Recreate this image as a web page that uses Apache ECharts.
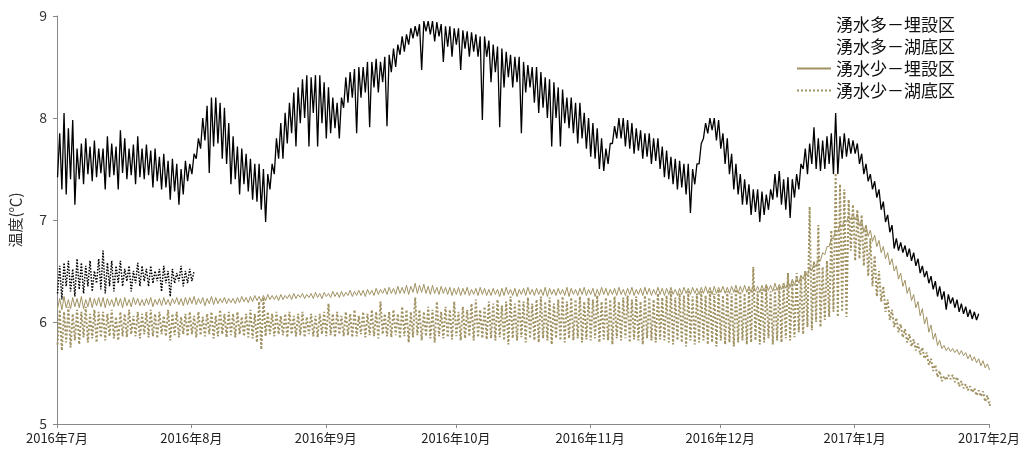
<!DOCTYPE html>
<html>
<head>
<meta charset="utf-8">
<script src="https://cdn.jsdelivr.net/npm/echarts/dist/echarts.min.js"></script>
<style>
  html, body { margin: 0; padding: 0; background: #fff; }
  #chart { width: 1024px; height: 460px; }
</style>
</head>
<body>
<div id="chart"></div>
<script>
// daily min / max readings, index 0 = 2016-07-01
const startDate = [2016, 6, 1];
const seriesNames = ['湧水多－埋設区', '湧水多－湖底区', '湧水少－埋設区', '湧水少－湖底区'];
const yTicks = [5, 6, 7, 8, 9];

// 湧水多－埋設区
const manyBuriedMax = [
    7.85, 8.05, 7.9, 7.98, 7.7, 7.75, 7.8, 7.72, 7.78, 7.7,
    7.7, 7.82, 7.75, 7.72, 7.88, 7.8, 7.7, 7.74, 7.82, 7.7,
    7.74, 7.68, 7.7, 7.62, 7.65, 7.58, 7.6, 7.55, 7.5, 7.58,
    7.55, 7.65, 7.8, 8.0, 8.12, 8.2, 8.2, 8.15, 8.1, 7.95,
    7.82, 7.72, 7.7, 7.65, 7.6, 7.55, 7.55, 7.5, 7.45, 7.55,
    7.8, 7.95, 8.05, 8.15, 8.25, 8.3, 8.38, 8.42, 8.4, 8.42,
    8.42, 8.35, 8.3, 8.2, 8.15, 8.2, 8.4, 8.45, 8.48, 8.5,
    8.5, 8.55, 8.55, 8.58, 8.55, 8.6, 8.62, 8.68, 8.72, 8.8,
    8.82, 8.88, 8.9, 8.92, 8.95, 8.95, 8.95, 8.94, 8.92, 8.9,
    8.9, 8.88, 8.88, 8.86, 8.85, 8.84, 8.82, 8.8, 8.8, 8.76,
    8.72, 8.7, 8.68, 8.65, 8.62, 8.6, 8.6, 8.55, 8.52, 8.5,
    8.5, 8.45, 8.4, 8.38, 8.35, 8.3, 8.28, 8.2, 8.2, 8.15,
    8.15, 8.05, 8.0, 7.95, 7.9, 7.8, 7.7, 7.75, 7.92, 8.0,
    8.0, 7.98, 7.95, 7.9, 7.88, 7.85, 7.85, 7.8, 7.8, 7.72,
    7.68, 7.62, 7.6, 7.58, 7.55, 7.55, 7.5, 7.55, 7.75, 7.95,
    8.0, 8.0, 7.98, 7.85, 7.8, 7.65, 7.55, 7.45, 7.4, 7.35,
    7.3, 7.3, 7.28, 7.25, 7.3, 7.45, 7.48, 7.4, 7.42, 7.4,
    7.45, 7.55, 7.7, 7.75, 7.91, 7.8, 7.78, 7.82, 7.85, 8.05,
    7.82, 7.85, 7.8, 7.78, 7.75, 7.65, 7.55, 7.45, 7.38, 7.3,
    7.18, 7.05, 6.95, 6.82, 6.78, 6.75, 6.72, 6.68, 6.62, 6.55,
    6.5, 6.45, 6.4, 6.35, 6.3, 6.27, 6.24, 6.22, 6.18, 6.15,
    6.12, 6.1, 6.08
];
const manyBuriedMin = [
    7.42, 7.3, 7.25, 7.4, 7.15, 7.4, 7.35, 7.45, 7.38, 7.42,
    7.46, 7.3, 7.42, 7.44, 7.3, 7.46, 7.4, 7.44, 7.35, 7.42,
    7.4, 7.44, 7.32, 7.38, 7.3, 7.32, 7.2, 7.28, 7.15, 7.25,
    7.38, 7.45, 7.6, 7.7, 7.78, 7.46, 7.72, 7.75, 7.6, 7.55,
    7.35, 7.4, 7.25, 7.35, 7.28, 7.2, 7.18, 7.1, 6.98, 7.3,
    7.45, 7.6, 7.6, 7.75, 7.85, 7.72, 7.95, 8.0, 7.72, 8.05,
    7.72, 7.95, 7.8, 7.85, 7.9, 7.8, 8.1, 8.15, 8.2, 7.85,
    8.2, 8.25, 7.91, 8.3, 8.25, 8.35, 7.92, 8.45, 8.5, 8.62,
    8.65, 8.72, 8.78, 8.8, 8.47, 8.85, 8.82, 8.75, 8.8, 8.55,
    8.7, 8.6, 8.72, 8.47, 8.68, 8.6, 8.65, 8.6, 7.98, 8.6,
    8.35, 8.45, 7.91, 8.3, 8.4, 8.3, 8.35, 7.85, 8.25, 8.3,
    8.15, 8.05, 8.1, 8.0, 7.72, 8.0, 7.72, 7.95, 7.9, 7.85,
    7.75, 7.8, 7.7, 7.62, 7.6, 7.5, 7.48, 7.55, 7.75, 7.8,
    7.8, 7.72, 7.7, 7.65, 7.68, 7.6, 7.62, 7.55, 7.58, 7.5,
    7.42, 7.4, 7.35, 7.3, 7.32, 7.25, 7.07, 7.35, 7.55, 7.8,
    7.85, 7.88, 7.78, 7.7, 7.55, 7.45, 7.3, 7.25, 7.15, 7.15,
    7.05, 7.08, 6.98, 7.05, 7.1, 7.2, 7.22, 7.15, 7.1, 7.02,
    7.22, 7.3, 7.5, 7.45, 7.55, 7.5, 7.48, 7.5, 7.55, 7.45,
    7.45, 7.6, 7.62, 7.65, 7.65, 7.55, 7.45, 7.38, 7.3, 7.22,
    7.1, 6.98, 6.88, 6.72, 6.7, 6.68, 6.64, 6.6, 6.55, 6.48,
    6.44, 6.38, 6.32, 6.25, 6.22, 6.12, 6.18, 6.14, 6.1, 6.08,
    6.05, 6.03, 6.02
];

// 湧水多－湖底区 (7/1 - 8/1)
const manyBottomMax = [
    6.55, 6.58, 6.6, 6.52, 6.62, 6.58, 6.55, 6.6, 6.5, 6.62,
    6.7, 6.58, 6.6, 6.55, 6.6, 6.52, 6.55, 6.5, 6.58, 6.55,
    6.52, 6.55, 6.5, 6.52, 6.55, 6.5, 6.52, 6.48, 6.55, 6.5,
    6.52, 6.5
];
const manyBottomMin = [
    6.28, 6.22, 6.35, 6.3, 6.25, 6.32, 6.28, 6.35, 6.3, 6.38,
    6.32, 6.28, 6.35, 6.3, 6.38, 6.35, 6.4, 6.3, 6.38, 6.35,
    6.4, 6.35, 6.38, 6.4, 6.3, 6.38, 6.25, 6.38, 6.4, 6.35,
    6.38, 6.4
];

// 湧水少－埋設区
const fewBuriedMax = [
    6.23, 6.25, 6.22, 6.24, 6.23, 6.25, 6.22, 6.24, 6.23, 6.24,
    6.24, 6.23, 6.22, 6.24, 6.23, 6.24, 6.22, 6.24, 6.23, 6.22,
    6.23, 6.24, 6.22, 6.23, 6.24, 6.22, 6.23, 6.24, 6.23, 6.24,
    6.24, 6.25, 6.23, 6.24, 6.23, 6.25, 6.24, 6.23, 6.24, 6.23,
    6.23, 6.24, 6.25, 6.24, 6.25, 6.26, 6.25, 6.26, 6.27, 6.26,
    6.26, 6.27, 6.26, 6.27, 6.28, 6.27, 6.28, 6.27, 6.28, 6.29,
    6.28, 6.29, 6.28, 6.3, 6.29, 6.3, 6.29, 6.31, 6.3, 6.31,
    6.31, 6.32, 6.31, 6.33, 6.32, 6.33, 6.34, 6.33, 6.35, 6.34,
    6.36, 6.35, 6.38, 6.36, 6.37, 6.35, 6.36, 6.34, 6.35, 6.34,
    6.34, 6.33, 6.34, 6.33, 6.34, 6.32, 6.33, 6.34, 6.33, 6.32,
    6.33, 6.32, 6.33, 6.34, 6.32, 6.33, 6.32, 6.33, 6.34, 6.32,
    6.33, 6.32, 6.34, 6.33, 6.32, 6.33, 6.32, 6.34, 6.33, 6.32,
    6.33, 6.34, 6.32, 6.33, 6.32, 6.34, 6.33, 6.32, 6.33, 6.34,
    6.32, 6.33, 6.34, 6.32, 6.33, 6.34, 6.33, 6.32, 6.34, 6.33,
    6.33, 6.34, 6.32, 6.33, 6.34, 6.33, 6.34, 6.33, 6.34, 6.35,
    6.34, 6.35, 6.34, 6.35, 6.34, 6.35, 6.36, 6.35, 6.36, 6.35,
    6.36, 6.35, 6.36, 6.37, 6.36, 6.38, 6.37, 6.38, 6.4, 6.42,
    6.44, 6.46, 6.5, 6.54, 6.58, 6.62, 6.68, 6.74, 6.82, 6.9,
    6.96, 7.0, 7.04, 7.06, 7.06, 7.0, 6.95, 6.9, 6.85, 6.8,
    6.74, 6.68, 6.62, 6.55, 6.48, 6.41, 6.34, 6.27, 6.2, 6.13,
    6.05, 5.97, 5.89, 5.82, 5.77, 5.75, 5.74, 5.73, 5.72, 5.7,
    5.68, 5.66, 5.64, 5.62, 5.59, 5.56
];
const fewBuriedMin = [
    6.13, 6.12, 6.14, 6.13, 6.15, 6.14, 6.13, 6.15, 6.14, 6.16,
    6.15, 6.14, 6.16, 6.15, 6.16, 6.14, 6.16, 6.15, 6.17, 6.16,
    6.16, 6.17, 6.15, 6.17, 6.16, 6.17, 6.16, 6.18, 6.17, 6.16,
    6.17, 6.18, 6.17, 6.18, 6.16, 6.18, 6.17, 6.18, 6.19, 6.18,
    6.19, 6.18, 6.19, 6.2, 6.19, 6.2, 6.21, 6.2, 6.21, 6.22,
    6.22, 6.21, 6.22, 6.23, 6.22, 6.23, 6.24, 6.23, 6.24, 6.23,
    6.24, 6.23, 6.25, 6.24, 6.25, 6.24, 6.25, 6.26, 6.25, 6.26,
    6.26, 6.25, 6.27, 6.26, 6.27, 6.28, 6.27, 6.28, 6.27, 6.28,
    6.28, 6.27, 6.29, 6.28, 6.29, 6.28, 6.27, 6.28, 6.27, 6.28,
    6.27, 6.26, 6.27, 6.26, 6.27, 6.26, 6.27, 6.26, 6.27, 6.26,
    6.26, 6.27, 6.25, 6.26, 6.27, 6.26, 6.25, 6.27, 6.26, 6.27,
    6.26, 6.27, 6.26, 6.25, 6.27, 6.26, 6.27, 6.26, 6.25, 6.27,
    6.26, 6.27, 6.26, 6.27, 6.25, 6.26, 6.27, 6.26, 6.27, 6.26,
    6.27, 6.26, 6.27, 6.26, 6.27, 6.26, 6.27, 6.26, 6.27, 6.27,
    6.26, 6.27, 6.27, 6.26, 6.27, 6.28, 6.27, 6.28, 6.27, 6.28,
    6.28, 6.27, 6.28, 6.29, 6.28, 6.28, 6.29, 6.28, 6.29, 6.29,
    6.29, 6.3, 6.29, 6.3, 6.31, 6.3, 6.31, 6.32, 6.33, 6.34,
    6.36, 6.38, 6.42, 6.45, 6.5, 6.54, 6.6, 6.66, 6.74, 6.82,
    6.88, 6.93, 6.98, 7.0, 7.0, 6.94, 6.88, 6.84, 6.79, 6.74,
    6.68, 6.62, 6.56, 6.5, 6.42, 6.35, 6.28, 6.21, 6.14, 6.06,
    5.98, 5.9, 5.83, 5.77, 5.74, 5.72, 5.71, 5.7, 5.68, 5.67,
    5.64, 5.62, 5.6, 5.57, 5.55, 5.53
];

// 湧水少－湖底区
const fewBottomMax = [
    6.12, 6.1, 6.15, 6.08, 6.12, 6.1, 6.15, 6.08, 6.12, 6.1,
    6.1, 6.08, 6.12, 6.05, 6.1, 6.08, 6.12, 6.06, 6.1, 6.08,
    6.1, 6.12, 6.08, 6.1, 6.06, 6.12, 6.08, 6.1, 6.05, 6.08,
    6.1, 6.06, 6.1, 6.05, 6.08, 6.1, 6.06, 6.12, 6.08, 6.1,
    6.08, 6.1, 6.05, 6.08, 6.12, 6.08, 6.2, 6.24, 6.1, 6.08,
    6.1, 6.06, 6.08, 6.1, 6.06, 6.08, 6.1, 6.05, 6.08, 6.06,
    6.08, 6.1, 6.18, 6.08, 6.1, 6.06, 6.1, 6.08, 6.12, 6.06,
    6.1, 6.08, 6.12, 6.1, 6.2, 6.08, 6.1, 6.12, 6.08, 6.15,
    6.12, 6.1, 6.24, 6.12, 6.1, 6.15, 6.12, 6.2, 6.1, 6.15,
    6.12, 6.2, 6.1, 6.15, 6.12, 6.18, 6.22, 6.12, 6.15, 6.2,
    6.18, 6.22, 6.16, 6.2, 6.25, 6.18, 6.22, 6.2, 6.24, 6.18,
    6.22, 6.25, 6.2, 6.24, 6.18, 6.22, 6.25, 6.2, 6.24, 6.22,
    6.25, 6.2, 6.24, 6.22, 6.26, 6.2, 6.24, 6.22, 6.25, 6.2,
    6.24, 6.26, 6.22, 6.25, 6.2, 6.26, 6.24, 6.22, 6.28, 6.24,
    6.26, 6.3, 6.24, 6.28, 6.26, 6.3, 6.25, 6.28, 6.3, 6.26,
    6.3, 6.28, 6.32, 6.26, 6.3, 6.28, 6.32, 6.3, 6.28, 6.32,
    6.54, 6.3, 6.32, 6.35, 6.3, 6.32, 6.35, 6.38, 6.48, 6.4,
    6.48, 6.45, 6.5, 7.13, 6.6, 6.95, 6.54, 6.6, 6.9, 7.46,
    7.35, 7.3, 7.2, 7.15, 7.1, 7.05, 6.95, 6.82, 6.65, 6.5,
    6.35, 6.22, 6.12, 6.04, 5.98, 5.93, 5.88, 5.83, 5.79, 5.75,
    5.7, 5.64, 5.58, 5.52, 5.47, 5.48, 5.48, 5.46, 5.42, 5.39,
    5.37, 5.35, 5.33, 5.32, 5.28, 5.22
];
const fewBottomMin = [
    5.78, 5.72, 5.8, 5.75, 5.82, 5.78, 5.85, 5.8, 5.84, 5.8,
    5.85, 5.82, 5.86, 5.84, 5.82, 5.86, 5.85, 5.88, 5.86, 5.84,
    5.88, 5.85, 5.86, 5.84, 5.88, 5.86, 5.82, 5.87, 5.85, 5.88,
    5.86, 5.88, 5.85, 5.87, 5.86, 5.88, 5.84, 5.86, 5.88, 5.85,
    5.87, 5.85, 5.88, 5.86, 5.85, 5.84, 5.8, 5.73, 5.86, 5.88,
    5.86, 5.88, 5.87, 5.85, 5.88, 5.86, 5.87, 5.85, 5.88, 5.86,
    5.85, 5.88, 5.86, 5.87, 5.85, 5.88, 5.86, 5.87, 5.85, 5.86,
    5.88, 5.85, 5.87, 5.86, 5.84, 5.88, 5.86, 5.85, 5.87, 5.84,
    5.86, 5.8, 5.85, 5.87, 5.82, 5.86, 5.84, 5.8, 5.86, 5.84,
    5.85, 5.83, 5.86, 5.82, 5.84, 5.86, 5.82, 5.85, 5.84, 5.83,
    5.84, 5.82, 5.85, 5.82, 5.78, 5.84, 5.82, 5.85, 5.8, 5.84,
    5.82, 5.8, 5.84, 5.82, 5.78, 5.84, 5.82, 5.8, 5.84, 5.82,
    5.84, 5.8, 5.83, 5.82, 5.84, 5.8, 5.83, 5.82, 5.78, 5.84,
    5.82, 5.84, 5.8, 5.83, 5.82, 5.78, 5.84, 5.82, 5.8, 5.83,
    5.82, 5.8, 5.78, 5.82, 5.8, 5.76, 5.82, 5.78, 5.8, 5.82,
    5.78, 5.8, 5.76, 5.82, 5.78, 5.8, 5.76, 5.8, 5.82, 5.78,
    5.8, 5.82, 5.78, 5.8, 5.84, 5.78, 5.82, 5.8, 5.84, 5.82,
    5.85, 5.9, 5.88, 5.95, 5.92, 6.0, 5.95, 6.02, 6.05, 6.1,
    6.05, 6.1, 6.05, 6.7, 6.6, 6.62, 6.55, 6.45, 6.35, 6.25,
    6.2, 6.1, 6.02, 5.95, 5.9, 5.85, 5.8, 5.76, 5.72, 5.68,
    5.64, 5.58, 5.52, 5.46, 5.42, 5.43, 5.44, 5.41, 5.37, 5.35,
    5.33, 5.31, 5.28, 5.27, 5.22, 5.18
];

// each day: low reading early, high reading in the afternoon
function toPoints(lows, highs) {
    const pts = [];
    lows.forEach(function (lo, i) {
        const day = new Date(startDate[0], startDate[1], startDate[2] + i).getTime();
        pts.push([day + 3 * 3600000, lo]);
        pts.push([day + 15 * 3600000, highs[i]]);
    });
    return pts;
}

const chart = echarts.init(document.getElementById('chart'));
const font = '"Noto Sans CJK JP", "Noto Sans", sans-serif';
const olive = '#a09262';
const hidden = { opacity: 0 };

const option = {
    backgroundColor: '#fff',
    animation: false,
    textStyle: { fontFamily: font },
    grid: { left: 57, right: 35, top: 16, bottom: 36 },
    legend: {
        orient: 'vertical',
        left: 791,
        top: 11,
        itemWidth: 34,
        itemHeight: 14,
        itemGap: 5,
        textStyle: { fontSize: 17, color: '#111', fontFamily: font },
        data: [
            { name: seriesNames[0], itemStyle: hidden, lineStyle: hidden },
            { name: seriesNames[1], itemStyle: hidden, lineStyle: hidden },
            { name: seriesNames[2], itemStyle: hidden },
            { name: seriesNames[3], itemStyle: hidden }
        ]
    },
    xAxis: {
        type: 'time',
        min: new Date(2016, 6, 1).getTime(),
        max: new Date(2017, 1, 1).getTime(),
        minInterval: 28 * 86400000,
        maxInterval: 31 * 86400000,
        splitLine: { show: false },
        axisLine: { lineStyle: { color: '#888' } },
        axisTick: { show: true, length: 4, lineStyle: { color: '#888' } },
        axisLabel: {
            color: '#222',
            fontSize: 13,
            margin: 8,
            showMinLabel: true,
            showMaxLabel: true,
            hideOverlap: false,
            formatter: function (val) {
                const d = new Date(val);
                return d.getFullYear() + '年' + (d.getMonth() + 1) + '月';
            }
        }
    },
    yAxis: {
        type: 'value',
        min: yTicks[0],
        max: yTicks[yTicks.length - 1],
        interval: 1,
        name: '温度(℃)',
        nameLocation: 'middle',
        nameGap: 34,
        nameTextStyle: { fontSize: 15, color: '#333' },
        splitLine: { show: false },
        axisLine: { show: true, lineStyle: { color: '#888' } },
        axisTick: { show: true, length: 4, lineStyle: { color: '#888' } },
        axisLabel: { color: '#333', fontSize: 14, margin: 10 }
    },
    series: [
        {
            name: seriesNames[2],
            type: 'line',
            symbol: 'none',
            z: 2,
            color: olive,
            lineStyle: { width: 1, color: olive },
            data: toPoints(fewBuriedMin, fewBuriedMax)
        },
        {
            name: seriesNames[3],
            type: 'line',
            symbol: 'none',
            z: 3,
            color: olive,
            lineStyle: { width: 2, color: olive, type: 'dotted' },
            data: toPoints(fewBottomMin, fewBottomMax)
        },
        {
            name: seriesNames[1],
            type: 'line',
            symbol: 'none',
            z: 4,
            color: '#000',
            lineStyle: { width: 1.5, color: '#000', type: 'dotted' },
            data: toPoints(manyBottomMin, manyBottomMax)
        },
        {
            name: seriesNames[0],
            type: 'line',
            symbol: 'none',
            z: 5,
            color: '#000',
            lineStyle: { width: 1.3, color: '#000' },
            data: toPoints(manyBuriedMin, manyBuriedMax)
        }
    ]
};
chart.setOption(option);

window.onresize = function () {
    chart.resize();
};
</script>
</body>
</html>
